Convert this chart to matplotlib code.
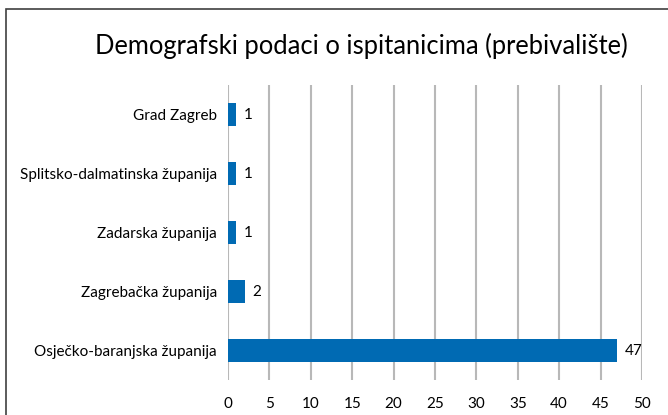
import matplotlib
matplotlib.use('Agg')
import matplotlib.pyplot as plt
from matplotlib.patches import Rectangle

plt.rcParams['font.family'] = ['Lato', 'DejaVu Sans']

# podaci (odozdo prema gore)
kategorije = ['Osječko-baranjska županija', 'Zagrebačka županija',
              'Zadarska županija', 'Splitsko-dalmatinska županija', 'Grad Zagreb']
vrijednosti = [47, 2, 1, 1, 1]
x_ticks = [0, 5, 10, 15, 20, 25, 30, 35, 40, 45, 50]

fig = plt.figure(figsize=(6.68, 4.15), dpi=100)
ax = fig.add_axes([0.3413, 0.0843, 0.6197, 0.7108])

# okvir grafikona
fig.patches.append(Rectangle((6 / 668, -0.1), 1.2, (415 - 9) / 415 + 0.1,
                             transform=fig.transFigure, fill=False,
                             edgecolor='#404040', linewidth=1.2))

ypos = range(len(kategorije))
ax.barh(ypos, vrijednosti, height=0.39, color='#006AB3', zorder=3)
for y, v in zip(ypos, vrijednosti):
    ax.text(v + 0.9, y, str(v), va='center', ha='left', fontsize=11, color='#000000')

ax.set_xlim(0, 50)
ax.set_ylim(-0.5, 4.5)
ax.set_xticks(x_ticks)
ax.set_yticks(list(ypos))
ax.set_yticklabels(kategorije)
ax.tick_params(axis='both', length=0, labelsize=11, colors='#000000')
ax.tick_params(axis='x', pad=12)
ax.tick_params(axis='y', pad=8)
ax.grid(axis='x', color='#B8B8B8', linewidth=1.5, zorder=0)
for s in ax.spines.values():
    s.set_visible(False)

fig.text(0.541, 0.89, 'Demografski podaci o ispitanicima (prebivalište)',
         ha='center', va='center', fontsize=18.4, color='#000000')

fig.savefig('out.png', dpi=100)
